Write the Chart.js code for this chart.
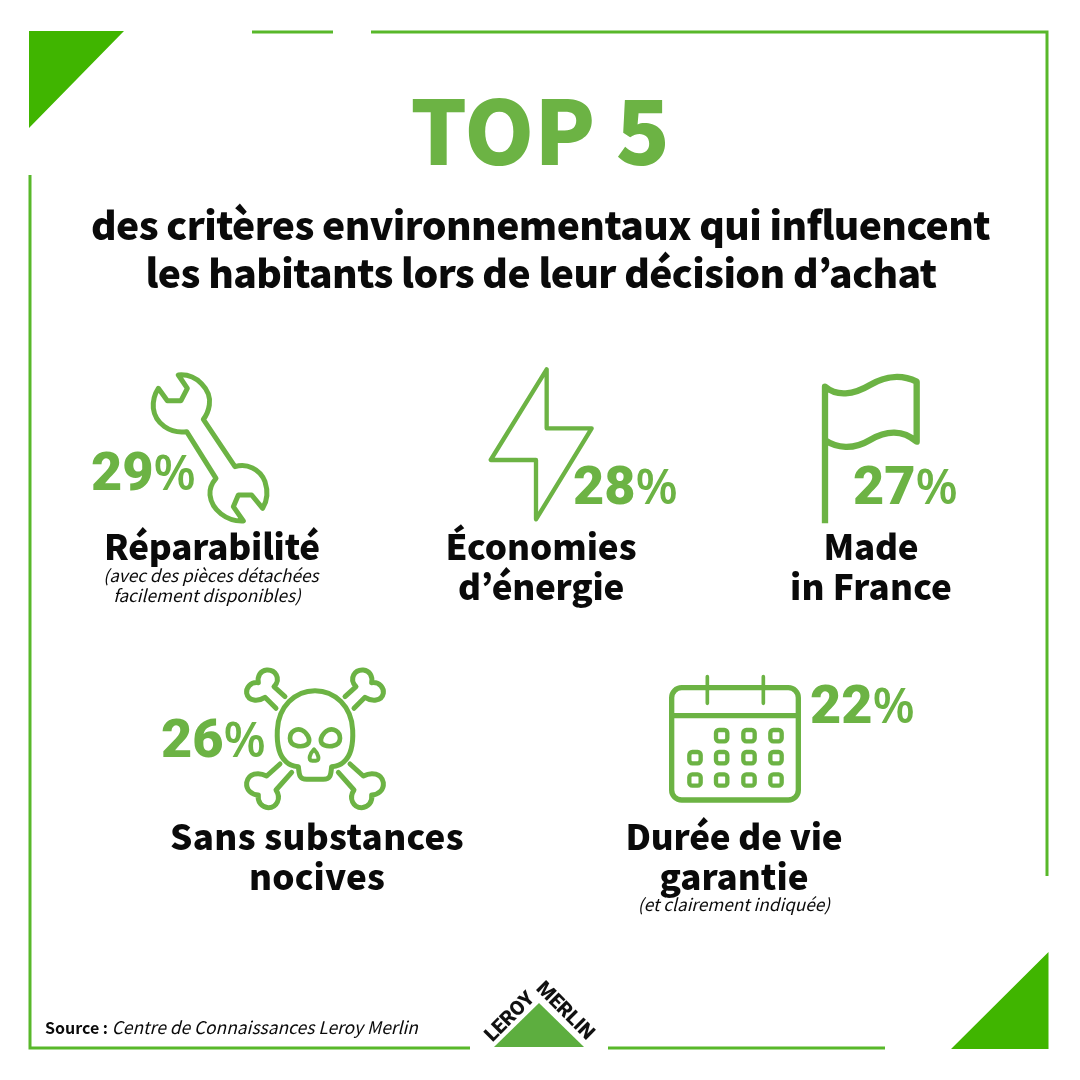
<!DOCTYPE html>
<html lang="fr">
<head>
<meta charset="utf-8">
<title>Top 5 des critères environnementaux</title>
<script src="https://cdn.jsdelivr.net/npm/chart.js@4/dist/chart.umd.min.js"></script>
<style>
  html, body { margin: 0; padding: 0; background: #fff; }
  canvas { display: block; }
</style>
</head>
<body>
<canvas id="chart" width="1080" height="1080"></canvas>
<script>
// ── data ──────────────────────────────────────────────
const categories = ['Réparabilité', 'Économies d’énergie', 'Made in France', 'Sans substances nocives', 'Durée de vie garantie'];
const values = [29, 28, 27, 26, 22];
const titleText = 'TOP 5';
const subtitleLines = ['des critères environnementaux qui influencent', 'les habitants lors de leur décision d’achat'];
const sourceLabel = 'Source :';
const sourceText = 'Centre de Connaissances Leroy Merlin';

// ── layout, in page pixels (the scales run 0-1080) ────
const valueSpots = [[91, 490], [573, 504], [853, 504], [161, 757], [810, 723]];
const subtitleSpots = [[540.5, 240, 899], [541, 288, 791]];
const labelSpots = [
  [[212, 560, 'Réparabilité', 216]],
  [[541, 560, 'Économies', 191], [541, 600, 'd’énergie', 166]],
  [[871, 560, 'Made', 95], [871, 600, 'in France', 162]],
  [[317, 850, 'Sans substances', 294], [317, 890, 'nocives', 136]],
  [[734, 850, 'Durée de vie', 217], [734, 890, 'garantie', 149]]
];
const noteSpots = [
  [211, 582, '(avec des pièces détachées'],
  [207, 602, 'facilement disponibles)'],
  [734, 911, '(et clairement indiquée)']
];

const GREEN = '#6cb344';
const FRAME = '#58b82a';
const CORNER = '#40b500';
const HEAD = '"Noto Sans CJK JP", "Noto Sans", sans-serif';

// icons are traced at 3x, from their own origin
const iconPaths = {
  wrench: 'M295,45 C350,40 395,90 388,135 C385,155 378,168 370,178 L465,320 C500,310 540,325 555,365 C565,395 560,425 548,445 L515,405 L475,405 L460,440 L490,483 C440,485 395,450 390,405 C388,385 395,370 408,355 L320,215 C270,222 225,190 220,145 C218,120 225,100 235,85 L262,122 L303,122 L322,85 Z',
  bolt: 'M350,28 L350,205 L485,205 L318,478 L318,300 L182,300 Z',
  flag: 'M165,490 L165,80 C200,110 250,105 300,75 C350,45 400,45 440,65 L440,245 C400,210 350,210 300,240 C250,270 200,265 165,240',
  skull: 'M445,320 C430,318 418,315 408,305 C385,285 380,250 382,210 C385,140 435,92 495,92 C555,92 605,140 608,210 C610,250 605,285 582,305 C572,315 560,318 545,320 C542,340 545,358 520,358 L470,358 C445,358 448,340 445,320 Z',
  eyeL: 'M420,235 C420,212 440,205 455,210 C472,218 482,238 475,250 C465,262 420,265 420,235 Z',
  eyeR: 'M570,235 C570,212 550,205 535,210 C518,218 508,238 515,250 C525,262 570,265 570,235 Z',
  nose: 'M492,268 C480,280 472,302 487,302 L498,302 C512,302 504,280 492,268 Z',
  boneTL: 'M405,110 L372,80 C395,55 375,28 350,30 C330,32 322,50 325,68 C300,65 288,85 290,100 C295,125 325,125 345,112 L378,145',
  boneTR: 'M585,110 L618,80 C595,55 615,28 640,30 C660,32 668,50 665,68 C690,65 702,85 700,100 C695,125 665,125 645,112 L612,145',
  boneBL: 'M390,312 L350,348 C325,335 295,340 290,368 C288,390 305,405 325,405 C322,425 335,443 355,443 C380,443 395,415 378,390 L425,337',
  boneBR: 'M600,312 L640,348 C665,335 695,340 700,368 C702,390 685,405 665,405 C668,425 655,443 635,443 C610,443 595,415 612,390 L565,337',
  frame: 'M65,98 A30,30 0 0 1 95,68 L415,68 A30,30 0 0 1 445,98 L445,375 A30,30 0 0 1 415,405 L95,405 A30,30 0 0 1 65,375 Z M65,152 L445,152',
  pegs: 'M172,35 L172,115 M340,35 L340,115'
};
const iconSets = [
  { origin: [80, 360], parts: [['wrench', 15]] },
  { origin: [430, 360], parts: [['bolt', 13]] },
  { origin: [770, 360], parts: [['flag', 19]] },
  { origin: [150, 660], parts: [['skull', 15], ['eyeL', 14], ['eyeR', 14], ['nose', 12], ['boneTL', 15], ['boneTR', 15], ['boneBL', 15], ['boneBR', 15]] },
  { origin: [650, 665], parts: [['frame', 16], ['pegs', 11]] }
];
const calCols = [135, 215, 297, 378];
const calRows = [212, 278, 345];

function drawFrame(ctx) {
  ctx.strokeStyle = FRAME;
  ctx.lineWidth = 3;
  ctx.stroke(new Path2D('M252,32 L333,32 M371,32 L1047,32 L1047,876 M885,1048 L608,1048 M470,1048 L30,1048 L30,175'));
  ctx.fillStyle = CORNER;
  ctx.fill(new Path2D('M29,31 L124,31 L29,128 Z M951,1049 L1048.5,1049 L1048.5,952 Z'));
}

function drawIcons(ctx) {
  iconSets.forEach(set => {
    ctx.save();
    ctx.translate(set.origin[0], set.origin[1]);
    ctx.scale(1 / 3, 1 / 3);
    ctx.strokeStyle = GREEN;
    ctx.lineJoin = 'round';
    ctx.lineCap = 'round';
    set.parts.forEach(([name, w]) => {
      ctx.lineWidth = w;
      if (name === 'flag') ctx.lineCap = 'butt';
      ctx.stroke(new Path2D(iconPaths[name]));
    });
    if (set.parts[0][0] === 'frame') {
      ctx.lineWidth = 13;
      calRows.forEach((y, r) => calCols.forEach((x, c) => {
        if (r === 0 && c === 0) return;
        ctx.beginPath();
        ctx.roundRect(x - 17, y - 17, 34, 34, 9);
        ctx.stroke();
      }));
    }
    ctx.restore();
  });
}

function drawLogo(ctx) {
  ctx.fillStyle = '#5dae3f';
  ctx.fill(new Path2D('M539,1003 L584,1047 L494,1047 Z'));
  ctx.fillStyle = '#111';
  ctx.textAlign = 'center';
  ctx.textBaseline = 'alphabetic';
  ctx.font = '900 20px Roboto, sans-serif';
  [['LEROY', 514, 1021, -Math.PI / 4], ['MERLIN', 561, 1015, Math.PI / 4]].forEach(([t, x, y, a]) => {
    ctx.save();
    ctx.translate(x, y);
    ctx.rotate(a);
    ctx.fillText(t, 0, 0);
    ctx.restore();
  });
}

// centred text, squeezed or stretched to its measured width
function fitText(chart, text, x, y, target) {
  const ctx = chart.ctx;
  ctx.letterSpacing = '0px';
  const natural = ctx.measureText(text).width;
  ctx.letterSpacing = ((target - natural) / text.length).toFixed(3) + 'px';
  ctx.fillText(text, chart.scales.x.getPixelForValue(x), chart.scales.y.getPixelForValue(y));
  ctx.letterSpacing = '0px';
}

function drawTexts(chart) {
  const ctx = chart.ctx;
  const xs = chart.scales.x, ys = chart.scales.y;
  ctx.textBaseline = 'alphabetic';

  ctx.textAlign = 'center';
  ctx.fillStyle = GREEN;
  ctx.font = '900 89px ' + HEAD;
  ctx.fillText(titleText, xs.getPixelForValue(540), ys.getPixelForValue(165));

  ctx.fillStyle = '#0a0a0a';
  ctx.font = '900 39px ' + HEAD;
  subtitleLines.forEach((line, i) => {
    const [x, y, target] = subtitleSpots[i];
    fitText(chart, line, x, y, target);
  });

  ctx.font = '900 35px ' + HEAD;
  labelSpots.forEach(lines => lines.forEach(([x, y, t, target]) => {
    fitText(chart, t, x, y, target);
  }));

  ctx.font = 'italic 400 17.2px ' + HEAD;
  noteSpots.forEach(([x, y, t]) => {
    ctx.fillText(t, xs.getPixelForValue(x), ys.getPixelForValue(y));
  });

  ctx.textAlign = 'left';
  ctx.font = '700 16px ' + HEAD;
  ctx.fillText(sourceLabel, 45, 1034);
  const w = ctx.measureText(sourceLabel + ' ').width;
  ctx.font = 'italic 400 17.4px ' + HEAD;
  ctx.fillText(sourceText, 45 + w, 1034);
}

// value labels sit on the dataset's points
function drawValues(chart) {
  const ctx = chart.ctx;
  ctx.textAlign = 'left';
  ctx.textBaseline = 'alphabetic';
  ctx.fillStyle = GREEN;
  chart.getDatasetMeta(0).data.forEach((pt, i) => {
    const digits = String(values[i]);
    ctx.font = '900 54px Roboto, sans-serif';
    ctx.fillText(digits, pt.x, pt.y);
    const w = ctx.measureText(digits).width;
    ctx.font = '600 49px "Open Sans", sans-serif';
    ctx.fillText('%', pt.x + w, pt.y);
  });
}

const infographic = {
  id: 'infographic',
  afterDatasetsDraw(chart) {
    const ctx = chart.ctx;
    ctx.save();
    drawFrame(ctx);
    drawIcons(ctx);
    drawTexts(chart);
    drawValues(chart);
    drawLogo(ctx);
    ctx.restore();
  }
};

new Chart(document.getElementById('chart'), {
  type: 'scatter',
  data: {
    labels: categories,
    datasets: [{
      label: 'Part des habitants (%)',
      data: values.map((v, i) => ({ x: valueSpots[i][0], y: valueSpots[i][1], v })),
      pointRadius: 0
    }]
  },
  options: {
    responsive: false,
    animation: false,
    devicePixelRatio: 1,
    layout: { padding: 0 },
    plugins: { legend: { display: false }, tooltip: { enabled: false } },
    scales: {
      x: { type: 'linear', min: 0, max: 1080, display: false },
      y: { type: 'linear', min: 0, max: 1080, reverse: true, display: false }
    }
  },
  plugins: [infographic]
});
</script>
</body>
</html>
